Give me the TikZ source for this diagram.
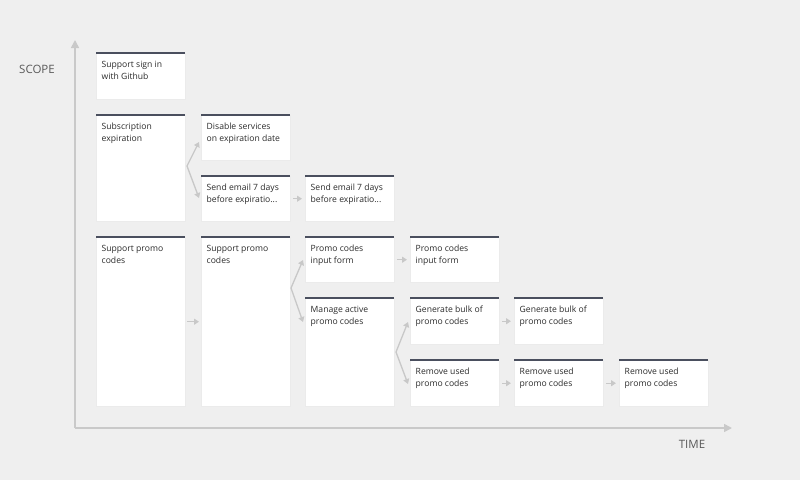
\documentclass[tikz,border=0pt]{standalone}
\usepackage{fontspec}
\setmainfont{Open Sans}
\usetikzlibrary{arrows.meta}
\definecolor{bg}{HTML}{EFEFEF}
\definecolor{topc}{HTML}{4A4F5E}
\definecolor{axc}{HTML}{C9C9C9}
\definecolor{arc}{HTML}{C8C8C8}
\definecolor{txt}{HTML}{2B2B2B}
\tikzset{
  card/.style={fill=white, draw=black!8, line width=0.4pt, anchor=north west, inner sep=0pt},
  lbl/.style={anchor=north west, font=\fontsize{8.6}{12}\selectfont, text=txt, align=left, inner sep=0pt},
  arr/.style={draw=arc, line width=1.3pt, -{Triangle[length=5pt,width=6pt]}},
  ax/.style={draw=axc, line width=1.6pt, -{Triangle[length=8pt,width=8pt]}},
}
\newcommand{\crd}[6]{%
  \node[card, minimum width=#3pt, minimum height=#4pt] (#5) at (#1,#2) {};
  \draw[topc, line width=1.6pt] (#5.north west) -- (#5.north east);
  \node[lbl] (#5t) at ([xshift=5.5pt,yshift=-8pt]#5.north west) {#6};
}
\begin{document}
\begin{tikzpicture}[x=1pt,y=-1pt]
\fill[bg] (0,0) rectangle (800,480);
\useasboundingbox (0,0) rectangle (800,480);
\coordinate (o) at (75,428);
\coordinate (ytop) at (75,40);
\coordinate (xend) at (732,428);
\draw[ax] (o) -- (ytop);
\draw[ax] (o) -- (xend);
\node[font=\fontsize{11.5}{13}\selectfont, text=black!65] (scope) at (37,69) {SCOPE};
\node[font=\fontsize{11.5}{13}\selectfont, text=black!65] (time) at (692,444) {TIME};

\crd{96}{53}{89}{46}{a}{Support sign in\\with Github}
\crd{96}{115}{89}{106}{b}{Subscription\\expiration}
\crd{201}{115}{89}{45}{c1}{Disable services\\on expiration date}
\crd{201}{176}{89}{45}{c2}{Send email 7 days\\before expiratio...}
\crd{305}{176}{89}{45}{c3}{Send email 7 days\\before expiratio...}
\crd{96}{237}{89}{169}{d1}{Support promo\\codes}
\crd{201}{237}{89}{169}{d2}{Support promo\\codes}
\crd{305}{237}{89}{45}{e1}{Promo codes\\input form}
\crd{410}{237}{89}{45}{e2}{Promo codes\\input form}
\crd{305}{298}{89}{108}{f1}{Manage active\\promo codes}
\crd{410}{298}{89}{46}{g1}{Generate bulk of\\promo codes}
\crd{514}{298}{89}{46}{g2}{Generate bulk of\\promo codes}
\crd{410}{360}{89}{46}{h1}{Remove used\\promo codes}
\crd{514}{360}{89}{46}{h2}{Remove used\\promo codes}
\crd{619}{360}{89}{46}{h3}{Remove used\\promo codes}

% forks
\coordinate (fb) at (187,166);
\draw[arr] (fb) -- (199,142);
\draw[arr] (fb) -- (199,198);
\coordinate (fd) at (291,288);
\draw[arr] (fd) -- (303,260);
\draw[arr] (fd) -- (303,322);
\coordinate (ff) at (396,352);
\draw[arr] (ff) -- (408,322);
\draw[arr] (ff) -- (408,384);
% straight
\draw[arr] ([xshift=3pt]c2.east) -- ([xshift=-3pt]c2.east -| c3.west);
\draw[arr] ([xshift=2pt]d1.east) -- ([xshift=-2pt]d1.east -| d2.west);
\draw[arr] ([xshift=3pt]e1.east) -- ([xshift=-3pt]e1.east -| e2.west);
\draw[arr] ([xshift=3pt]g1.east) -- ([xshift=-3pt]g1.east -| g2.west);
\draw[arr] ([xshift=3pt]h1.east) -- ([xshift=-3pt]h1.east -| h2.west);
\draw[arr] ([xshift=3pt]h2.east) -- ([xshift=-3pt]h2.east -| h3.west);
\end{tikzpicture}
\end{document}
